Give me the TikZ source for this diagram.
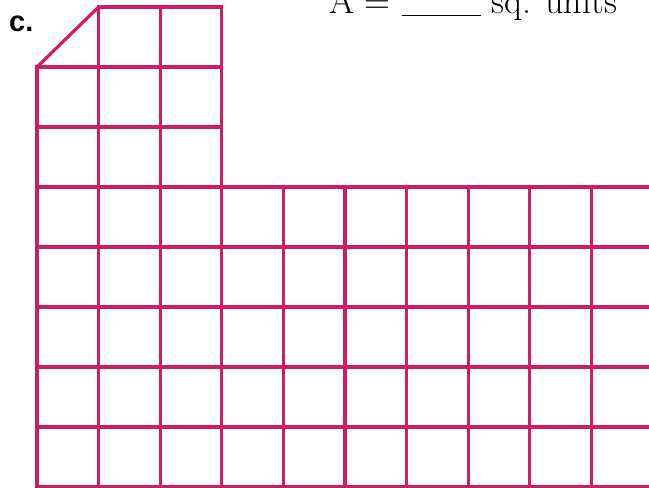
\documentclass[tikz,border=0pt]{standalone}
\usepackage{fontspec}
\newfontfamily\labelfont{Liberation Sans}
\definecolor{gridpink}{RGB}{208,28,100}
\begin{document}
\begin{tikzpicture}[x=1pt, y=-1pt,
        gridline/.style={draw=gridpink, line width=3.2pt, line cap=rect},
        problem/.style={font=\labelfont\bfseries\fontsize{29}{30}\selectfont, inner sep=0pt, anchor=base west},
        answer/.style={font=\fontsize{36}{37}\selectfont, inner sep=0pt, anchor=base west}]
            \useasboundingbox (0,0) rectangle (649,488);
            \clip (0,0) rectangle (649,488);

            % corner points of the grid
            \foreach \i in {0,...,10}{
                \foreach \j in {0,...,8}{
                    \coordinate (p\i-\j) at (37+61.6*\i, 7+60*\j);
                }
            }

            % wide lower part
            \foreach \j in {3,...,8}{
                \draw[gridline] (p0-\j) -- (p10-\j);
            }
            \foreach \i in {0,...,10}{
                \draw[gridline] (p\i-3) -- (p\i-8);
            }

            % tall upper part
            \foreach \j in {1,2}{
                \draw[gridline] (p0-\j) -- (p3-\j);
            }
            \draw[gridline] (p1-0) -- (p3-0);
            \draw[gridline] (p0-1) -- (p0-3);
            \foreach \i in {1,2,3}{
                \draw[gridline] (p\i-0) -- (p\i-3);
            }
            \draw[gridline] (p0-1) -- (p1-0);

            \node[problem] (label) at (9,31) {c.};
            \node[answer] (area) at (329,13) {A = \rule[-3pt]{79pt}{1.4pt} sq. units};
        \end{tikzpicture}
\end{document}
